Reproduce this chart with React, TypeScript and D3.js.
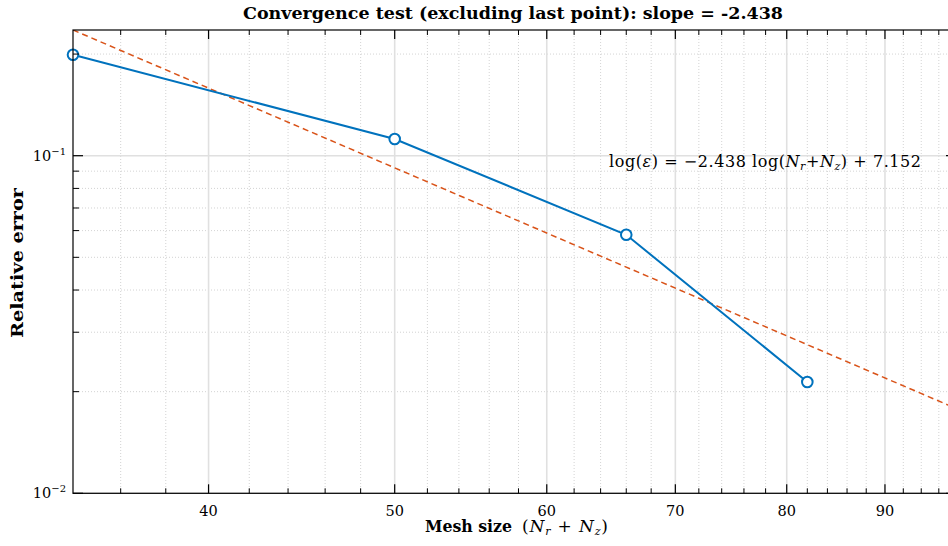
import React from "react";
import * as d3 from "d3";

const meshSize = [34, 50, 66, 82];
const relError = [0.199, 0.1121, 0.0583, 0.02137];
const fitSlope = -2.438;
const fitIntercept = 7.152;
const xMajorTicks = [40, 50, 60, 70, 80, 90];
const xMinorTicks = [36, 38, 42, 44, 46, 48, 52, 54, 56, 58, 62, 64, 66, 68, 72, 74, 76, 78, 82, 84, 86, 88, 92, 94, 96];
const yMajorTicks = [0.01, 0.1];
const yMinorTicks = [0.02, 0.03, 0.04, 0.05, 0.06, 0.07, 0.08, 0.09, 0.2];
const yTickExp = ["−2", "−1"];
const xDomain = [34, 98];

const W = 948, H = 546;
const L = 73, R = 956, T = 30, B = 493.3;
const FONT = "'DejaVu Serif', serif";
const BLUE = "#0072BD";
const ORANGE = "#D95319";

export default function App() {
  const x = d3.scaleLog().domain(xDomain).range([L, R]);
  const fitY = (n: number) => Math.exp(fitSlope * Math.log(n) + fitIntercept);
  const yTop = fitY(xDomain[0]);
  const y = d3.scaleLog().domain([0.01, yTop]).range([B, T]);
  const line = d3.line<number>().x((_, i) => x(meshSize[i])).y((d) => y(d));
  const fitPts: [number, number][] = xDomain.map((n) => [x(n), y(fitY(n))]);

  return (
    <svg width={W} height={H} style={{ position: "fixed", left: 0, top: 0, background: "#fff" }} fontFamily={FONT}>
      <rect x={0} y={0} width={W} height={H} fill="#fff" />
      <defs>
        <clipPath id="plotclip"><rect x={L} y={T} width={R - L} height={B - T} /></clipPath>
      </defs>
      {/* minor grid */}
      {xMinorTicks.map((t) => (
        <line key={"xm" + t} x1={x(t)} x2={x(t)} y1={T} y2={B} stroke="#c8c8c8" strokeWidth={0.8} strokeDasharray="1,2" />
      ))}
      {yMinorTicks.map((t) => (
        <line key={"ym" + t} x1={L} x2={R} y1={y(t)} y2={y(t)} stroke="#c8c8c8" strokeWidth={0.8} strokeDasharray="1,2" />
      ))}
      {/* major grid */}
      {xMajorTicks.map((t) => (
        <line key={"xg" + t} x1={x(t)} x2={x(t)} y1={T} y2={B} stroke="#e0e0e0" strokeWidth={1.6} />
      ))}
      {yMajorTicks.map((t) => (
        <line key={"yg" + t} x1={L} x2={R} y1={y(t)} y2={y(t)} stroke="#e0e0e0" strokeWidth={1.6} />
      ))}
      {/* fit line */}
      <g clipPath="url(#plotclip)">
        <line x1={fitPts[0][0]} y1={fitPts[0][1]} x2={fitPts[1][0]} y2={fitPts[1][1]} stroke={ORANGE} strokeWidth={1.5} strokeDasharray="6,4" />
      </g>
      {/* data */}
      <path d={line(relError) || ""} fill="none" stroke={BLUE} strokeWidth={2} />
      {relError.map((v, i) => (
        <circle key={"p" + i} cx={x(meshSize[i])} cy={y(v)} r={5.3} fill="#fff" stroke={BLUE} strokeWidth={2} />
      ))}
      {/* axes box */}
      <rect x={L} y={T} width={R - L} height={B - T} fill="none" stroke="#000" strokeWidth={1.2} />
      {/* x ticks */}
      {xMajorTicks.map((t) => (
        <g key={"xt" + t}>
          <line x1={x(t)} x2={x(t)} y1={B} y2={B - 9} stroke="#000" strokeWidth={1.2} />
          <line x1={x(t)} x2={x(t)} y1={T} y2={T + 9} stroke="#000" strokeWidth={1.2} />
          <text x={x(t)} y={515.5} textAnchor="middle" fontSize={14.5} fill="#000">{t}</text>
        </g>
      ))}
      {xMinorTicks.map((t) => (
        <g key={"xtm" + t}>
          <line x1={x(t)} x2={x(t)} y1={B} y2={B - 5} stroke="#000" strokeWidth={1} />
          <line x1={x(t)} x2={x(t)} y1={T} y2={T + 5} stroke="#000" strokeWidth={1} />
        </g>
      ))}
      {/* y ticks */}
      {yMajorTicks.map((t, i) => (
        <g key={"yt" + t}>
          <line x1={L} x2={L + 10} y1={y(t)} y2={y(t)} stroke="#000" strokeWidth={1.2} />
          <line x1={R} x2={R - 10} y1={y(t)} y2={y(t)} stroke="#000" strokeWidth={1.2} />
          <text x={L - 7} y={y(t) + 5} textAnchor="end" fontSize={14.5} fill="#000">
            10<tspan fontSize={10} dy={-6}>{yTickExp[i]}</tspan>
          </text>
        </g>
      ))}
      {yMinorTicks.map((t) => (
        <g key={"ytm" + t}>
          <line x1={L} x2={L + 6} y1={y(t)} y2={y(t)} stroke="#000" strokeWidth={1} />
          <line x1={R} x2={R - 6} y1={y(t)} y2={y(t)} stroke="#000" strokeWidth={1} />
        </g>
      ))}
      {/* title */}
      <text x={(243 + 783) / 2} y={19} textAnchor="middle" fontSize={16.5} fontWeight="bold" textLength={540} lengthAdjust="spacingAndGlyphs" fill="#000">
        Convergence test (excluding last point): slope = -2.438
      </text>
      {/* x label */}
      <text x={425} y={532} fontSize={17} fontWeight="bold" fill="#000" textLength={87} lengthAdjust="spacingAndGlyphs">Mesh size</text>
      <text x={522} y={532} fontSize={17} fill="#000" textLength={86} lengthAdjust="spacing">
        (<tspan fontStyle="italic">N</tspan><tspan fontStyle="italic" fontSize={11} dy={3}>r</tspan><tspan dy={-3}> + </tspan><tspan fontStyle="italic">N</tspan><tspan fontStyle="italic" fontSize={11} dy={3}>z</tspan><tspan dy={-3}>)</tspan>
      </text>
      {/* y label */}
      <text transform={`translate(23,${(188 + 338) / 2}) rotate(-90)`} textAnchor="middle" fontSize={16.5} fontWeight="bold" fill="#000" textLength={150} lengthAdjust="spacingAndGlyphs">
        Relative error
      </text>
      {/* annotation */}
      <text x={609} y={167} fontSize={16} fill="#000" textLength={312} lengthAdjust="spacing">
        log(<tspan fontStyle="italic">ε</tspan>) = −2.438 log(<tspan fontStyle="italic">N</tspan><tspan fontStyle="italic" fontSize={11} dy={3}>r</tspan><tspan dy={-3}>+</tspan><tspan fontStyle="italic">N</tspan><tspan fontStyle="italic" fontSize={11} dy={3}>z</tspan><tspan dy={-3}>) + 7.152</tspan>
      </text>
    </svg>
  );
}
